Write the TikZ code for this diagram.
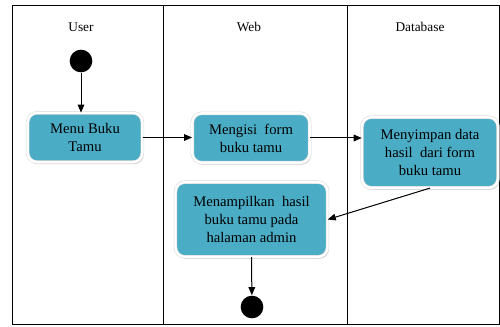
\documentclass[tikz,border=0pt]{standalone}
\usepackage{fontspec}
\setmainfont{Liberation Serif}
\usetikzlibrary{arrows.meta,shadows}
\tikzset{every picture/.style={line width=0.75pt}}
\definecolor{actfill}{RGB}{75,172,198}
\tikzset{
  activity/.style={draw=gray!30, line width=0.4pt, double=white, double distance=1.8pt,
    fill=actfill, rounded corners=7pt,
    drop shadow={shadow xshift=1pt, shadow yshift=-1.5pt, opacity=0.35, fill=gray},
    align=center, inner sep=0pt, font=\fontsize{11}{13.5}\selectfont},
  lanehead/.style={font=\fontsize{10}{12}\selectfont},
  flow/.style={line width=0.75pt, -{Triangle[length=6pt,width=5pt]}},
  dot/.style={circle, fill=black, minimum size=17pt, inner sep=0pt}
}

\begin{document}
\begin{tikzpicture}[x=0.75pt,y=0.75pt,yscale=-1,xscale=1]
\useasboundingbox (0,0) rectangle (500,327);

%Shape: Swimlane frame
\draw (12,6) rectangle (499,325);
\draw (163,6) -- (163,325);
\draw (347,6) -- (347,325);

% Text Node
\node [lanehead] (huser) at (81,27) {User};
% Text Node
\node [lanehead] (hweb) at (249,27) {Web};
% Text Node
\node [lanehead] (hdb) at (420,27) {Database};

%Shape: Circle start / end
\node [dot] (start) at (81,61) {};
\node [dot] (end) at (252,307) {};

%Shape: Activities
\node [activity, minimum width=86pt, minimum height=37pt] (menu) at (85,137.5) {Menu Buku\\Tamu};
\node [activity, minimum width=88pt, minimum height=37pt] (isi) at (251,138) {Mengisi~ form\\buku tamu};
\node [activity, minimum width=102pt, minimum height=53pt] (simpan) at (430,152.5) {Menyimpan data\\hasil~ dari form\\buku tamu};
\node [activity, minimum width=114pt, minimum height=56pt] (tampil) at (251.5,219.5) {Menampilkan~ hasil\\buku tamu pada\\halaman admin};

%Straight Lines
\draw [flow] (start) -- (start |- menu.north);
\draw [flow] (menu.east) -- (menu.east -| isi.west);
\draw [flow] (isi.east) -- (isi.east -| simpan.west);
\draw [flow] (simpan.south) -- (tampil.east);
\draw [flow] (tampil.south) -- (end);

\end{tikzpicture}
\end{document}
